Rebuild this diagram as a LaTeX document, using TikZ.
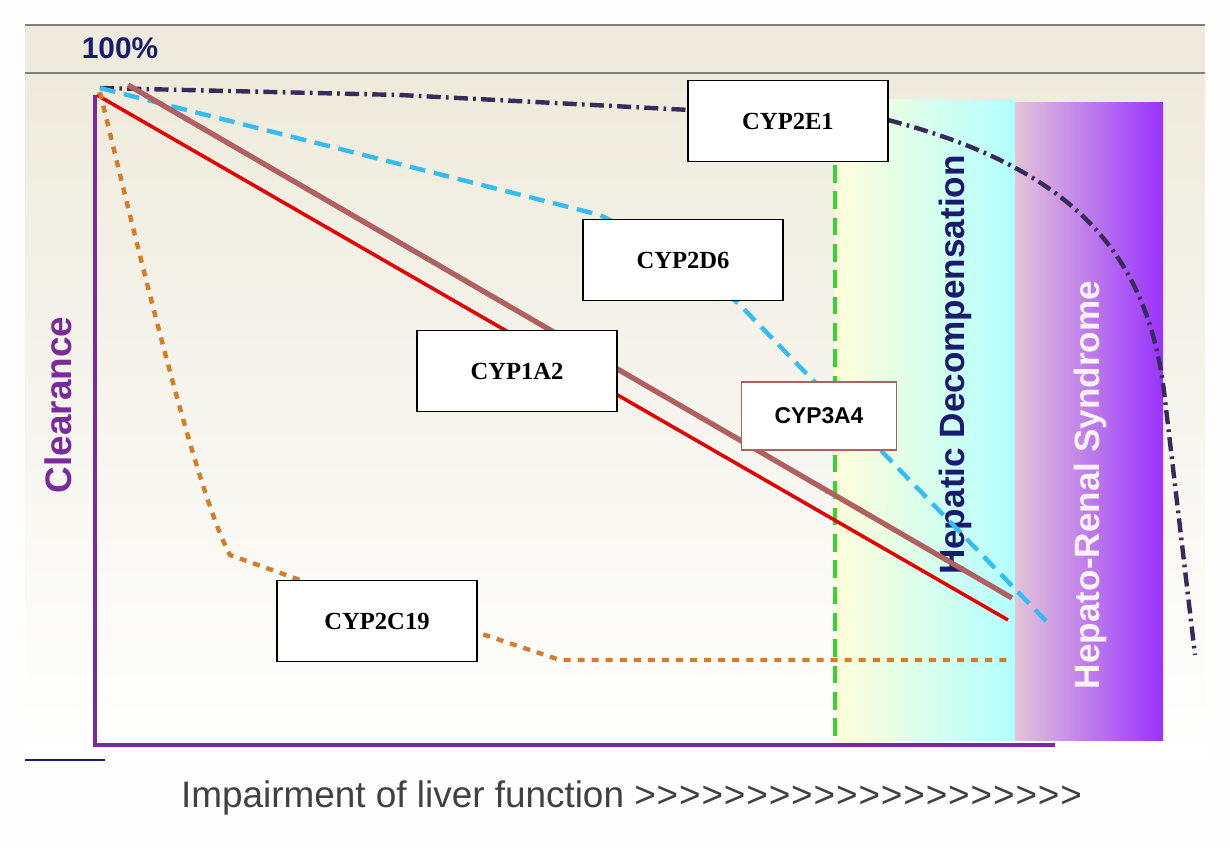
\documentclass[tikz,border=0pt]{standalone}
\usepackage{fontspec}
\setmainfont{Liberation Sans}[Ligatures=NoCommon]
\newfontfamily\boxfont{Liberation Serif}
\usetikzlibrary{positioning}

\definecolor{navy}{HTML}{1A1A6E}
\definecolor{cyppurple}{HTML}{3A2A5A}
\definecolor{cypbrown}{HTML}{B06060}
\definecolor{axispurple}{HTML}{7A2A9A}
\definecolor{paper}{HTML}{EEEBDC}
\definecolor{renalleft}{HTML}{E2C4D8}
\definecolor{renalright}{HTML}{9933FF}

\newcommand{\gtrun}{\foreach \k in {1,...,20}{\char62\kern0.5pt}}

\tikzset{
    cypbox/.style={draw=black, fill=white, line width=1pt, minimum width=4cm, minimum height=1.62cm, font=\boxfont\bfseries\fontsize{14}{16}\selectfont},
    zonelabel/.style={rotate=90, font=\bfseries\fontsize{20}{22}\selectfont},
}

\begin{document}
\begin{tikzpicture}[x=0.02cm, y=-0.02cm]
    \useasboundingbox (0,0) rectangle (1230,848);
    \fill[white!97!paper] (0,0) rectangle (1230,848);

    % panel
    \fill[paper] (25,25) rectangle (1205,73);
    \shade[top color=paper, bottom color=white] (25,73) rectangle (1205,760);
    \draw[gray, line width=1pt] (25,25) -- (1205,25);
    \draw[gray, line width=1.2pt] (25,73) -- (1205,73);
    \node[navy, font=\bfseries\fontsize{17}{20}\selectfont] (top) at (120,48) {100\%};

    % zones
    \shade[left color=yellow!15, right color=cyan!30] (835,100) rectangle (1015,740);
    \shade[left color=renalleft, right color=renalright] (1015,103) rectangle (1163,740);
    \draw[green!80!black!80, line width=2.5pt, dash pattern=on 10pt off 5pt] (835,165) -- (835,745);
    \node[zonelabel, navy] (hd) at (955,365) {Hepatic Decompensation};
    \node[zonelabel, white!80!pink] (hrs) at (1090,485) {Hepato-Renal Syndrome};

    % axes
    \draw[axispurple, line width=2pt] (95,95) -- (95,745) -- (1055,745);
    \draw[navy, line width=1pt] (25,760) -- (105,760);
    \node[axispurple, zonelabel, font=\bfseries\fontsize{21}{24}\selectfont] (clr) at (58,405) {Clearance};
    \node[black!75, font=\fontsize{21}{24}\selectfont] (imp) at (632,798) {Impairment of liver function \gtrun};

    % curves
    \draw[cyppurple, line width=2.5pt, dash pattern=on 8pt off 3pt on 1.5pt off 3pt]
        (100,88) -- (400,95) -- (690,110) (888,120) .. controls (1080,170) and (1150,260) .. (1165,400) -- (1195,655);
    \draw[cyan!80!white, line width=2.5pt, dash pattern=on 9pt off 5pt]
        (100,88) -- (600,215) .. controls (650,240) and (700,270) .. (740,305) -- (1050,625);
    \draw[cypbrown, line width=3pt] (128,85) -- (1012,598);
    \draw[red!90!black, line width=2pt] (97,95) -- (1008,620);
    \draw[orange!80!black!85, line width=2.5pt, dash pattern=on 4pt off 4pt]
        (100,92) .. controls (150,300) and (200,500) .. (230,555) -- (300,580) (470,630) -- (560,660) -- (1010,660);

    % labels
    \node[cypbox] (e1) at (788,121) {CYP2E1};
    \node[cypbox] (d6) at (683,260) {CYP2D6};
    \node[cypbox] (a2) at (517,371) {CYP1A2};
    \node[cypbox, draw=cypbrown, font=\bfseries\fontsize{13}{15}\selectfont, minimum width=3.1cm, minimum height=1.36cm] (a4) at (819,416) {CYP3A4};
    \node[cypbox] (c19) at (377,621) {CYP2C19};
\end{tikzpicture}
\end{document}
